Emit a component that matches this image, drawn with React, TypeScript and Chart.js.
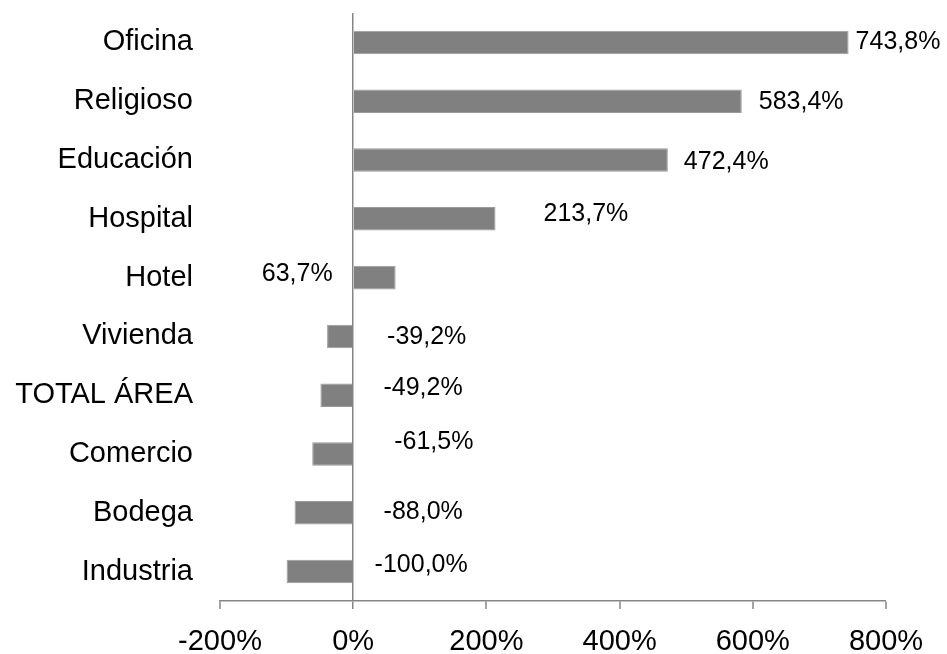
import React, { useEffect, useRef } from "react";
import { Chart, registerables } from "chart.js";

Chart.register(...registerables);

const categories = [
  "Oficina",
  "Religioso",
  "Educación",
  "Hospital",
  "Hotel",
  "Vivienda",
  "TOTAL ÁREA",
  "Comercio",
  "Bodega",
  "Industria",
];

const variation = [743.8, 583.4, 472.4, 213.7, 63.7, -39.2, -49.2, -61.5, -88.0, -100.0];

const xTicks = [-200, 0, 200, 400, 600, 800];

const FONT = "'Liberation Sans', Arial, sans-serif";

const fmt = (v: number) => v.toFixed(1).replace(".", ",") + "%";

// manual label nudges (pixels from bar end), mimicking the source's hand-placed labels
const labelNudges: { dx: number; dy: number; align: CanvasTextAlign }[] = [
  { dx: 7, dy: 0, align: "left" },
  { dx: 17, dy: 1, align: "left" },
  { dx: 16, dy: 2, align: "left" },
  { dx: 48, dy: -5, align: "left" },
  { dx: -63, dy: -4, align: "right" },
  { dx: 60, dy: 1, align: "left" },
  { dx: 63, dy: -7, align: "left" },
  { dx: 82, dy: -12, align: "left" },
  { dx: 89, dy: -1, align: "left" },
  { dx: 88, dy: -6, align: "left" },
];

const valueLabels = {
  id: "valueLabels",
  afterDatasetsDraw(chart: any) {
    const ctx = chart.ctx;
    const meta = chart.getDatasetMeta(0);
    ctx.save();
    ctx.font = `25px ${FONT}`;
    ctx.fillStyle = "#000";
    ctx.textBaseline = "middle";
    meta.data.forEach((el: any, i: number) => {
      const n = labelNudges[i] || { dx: 6, dy: 0, align: "left" };
      ctx.textAlign = n.align;
      ctx.fillText(fmt(variation[i]), el.x + n.dx, el.y + n.dy);
    });
    ctx.restore();
  },
};

export default function App() {
  const ref = useRef<HTMLCanvasElement | null>(null);

  useEffect(() => {
    document.body.style.margin = "0";
    if (!ref.current) return;
    const chart = new Chart(ref.current, {
      type: "bar",
      data: {
        labels: categories,
        datasets: [
          {
            data: variation,
            backgroundColor: "#808080",
            borderColor: "#9a9a9a",
            borderWidth: 1,
            barPercentage: 0.8,
            categoryPercentage: 0.5,
          },
        ],
      },
      options: {
        indexAxis: "y",
        animation: false,
        responsive: true,
        maintainAspectRatio: false,
        layout: { padding: { top: 13, right: 61, left: 0, bottom: 0 } },
        plugins: {
          legend: { display: false },
          tooltip: { enabled: false },
        },
        scales: {
          x: {
            type: "linear",
            min: -200,
            max: 800,
            afterBuildTicks: (scale: any) => {
              scale.ticks = xTicks.map((v) => ({ value: v }));
            },
            afterFit: (scale: any) => {
              scale.height = 53;
            },
            ticks: {
              callback: (v: any) => `${v}%`,
              font: { family: FONT, size: 29 },
              color: "#000",
              padding: 16,
              maxRotation: 0,
            },
            grid: {
              drawOnChartArea: true,
              color: (c: any) => (c.tick && c.tick.value === 0 ? "#868686" : "rgba(0,0,0,0)"),
              lineWidth: (c: any) => (c.tick && c.tick.value === 0 ? 1.5 : 0),
              tickColor: "#868686",
              tickLength: 8,
              tickWidth: 1.5,
            },
            border: { display: true, color: "#868686", width: 1.5 },
          },
          y: {
            afterFit: (scale: any) => {
              scale.width = 220;
            },
            ticks: {
              font: { family: FONT, size: 29, lineHeight: 0.9 },
              color: "#000",
              padding: 0,
            },
            grid: {
              display: true,
              drawOnChartArea: false,
              drawTicks: true,
              tickLength: 27,
              tickColor: "rgba(0,0,0,0)",
            },
            border: { display: false },
          },
        },
      },
      plugins: [valueLabels],
    });
    return () => chart.destroy();
  }, []);

  return (
    <div style={{ position: "absolute", left: 0, top: 0, width: 947, height: 654 }}>
      <canvas ref={ref} />
    </div>
  );
}
